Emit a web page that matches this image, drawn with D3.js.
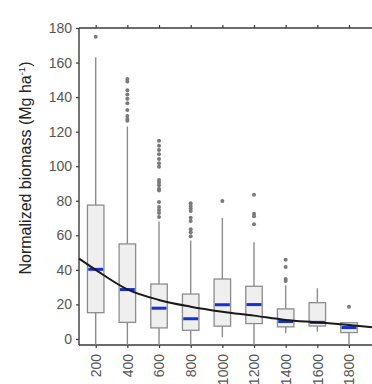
<!DOCTYPE html>
<html>
<head>
<meta charset="utf-8">
<script src="https://cdn.jsdelivr.net/npm/d3@7"></script>
<style>
  body { margin: 0; background: #fff; }
  svg { display: block; font-family: "Liberation Sans", Arial, sans-serif; }
</style>
</head>
<body>
<div id="chart"></div>
<script>
'use strict';

// distance classes (x axis)
var categories = [200, 400, 600, 800, 1000, 1200, 1400, 1600, 1800];

// box stats (Mg ha-1)
var whiskerHigh = [163, 123, 68, 57, 70, 56, 31, 29.3, 9.4];
var boxHigh     = [77.5, 55, 31.8, 26, 34.7, 30.5, 17.4, 21, 9.4];
var medians     = [40.3, 28.6, 17.8, 11.7, 19.8, 19.9, 10.1, 9.6, 6.6];
var boxLow      = [15.2, 9.6, 6.4, 5, 7.4, 8.9, 7.0, 7.5, 3.7];
var whiskerLow  = [0, 0, 0, 0, 1, 0, 3.3, 4.2, 0];

var outliers = [
  [175],
  [150.5, 149, 144, 141.5, 139, 136.4, 132.5, 129, 127.3, 126.3],
  [114.8, 111.9, 109.4, 106.9, 104.2, 101.7, 99.7, 92, 90.5, 89, 87, 86, 79.3, 76.4, 74.7, 72.9, 70.6],
  [78.5, 77, 75.5, 74, 70.2, 68.3, 63.5, 61.7, 59.5],
  [79.9],
  [83.5, 72.5, 71, 66.4],
  [45.9, 41.7, 34.7, 33.6],
  [],
  [18.7]
];

// fitted decay curve
var curveX = [95, 200, 400, 600, 800, 1000, 1200, 1400, 1600, 1800, 1945];
var curveY = [46.5, 40, 28.7, 22.6, 18.7, 15.8, 13.5, 11, 9.6, 8.1, 6.8];

var yTicks = [0, 20, 40, 60, 80, 100, 120, 140, 160, 180];

var W = 372, H = 384;
var plotLeft = 79, plotTop = 28, plotBottom = 345;

var svg = d3.select("#chart").append("svg")
  .attr("width", W).attr("height", H);

var x = d3.scaleLinear().domain([200, 1800]).range([95.7, 349]);
var y = d3.scaleLinear().domain([-3.5, 180]).range([plotBottom, plotTop]);

var axisColor = "#3a3a3a", labelColor = "#555";

// LEFT AXIS
var gy = svg.append("g").attr("transform", "translate(" + plotLeft + ",0)")
  .call(d3.axisLeft(y).tickValues(yTicks).tickSize(3).tickPadding(4).tickSizeOuter(0));
gy.select(".domain").remove();
gy.selectAll("line").attr("stroke", axisColor).attr("stroke-width", 1.2);
gy.selectAll("text").attr("font-size", 14).attr("fill", labelColor)
  .attr("font-family", "Liberation Sans, Arial, sans-serif");

// BOTTOM AXIS
var gx = svg.append("g").attr("transform", "translate(0," + plotBottom + ")")
  .call(d3.axisBottom(x).tickValues(categories).tickSize(3).tickSizeOuter(0).tickFormat(d3.format("d")));
gx.select(".domain").remove();
gx.selectAll("line").attr("stroke", axisColor).attr("stroke-width", 1.2);
gx.selectAll("text")
  .attr("font-size", 14).attr("fill", labelColor)
  .attr("font-family", "Liberation Sans, Arial, sans-serif")
  .attr("transform", "rotate(-90)")
  .attr("x", -9).attr("y", 0).attr("dy", "0.35em")
  .style("text-anchor", "end");

// TOP AXIS (ticks only)
var gt = svg.append("g").attr("transform", "translate(0," + plotTop + ")")
  .call(d3.axisTop(x).tickValues(categories).tickSize(3).tickFormat(""));
gt.select(".domain").remove();
gt.selectAll("line").attr("stroke", axisColor).attr("stroke-width", 1.2);

// frame lines
svg.append("line").attr("x1", plotLeft).attr("x2", W).attr("y1", plotTop).attr("y2", plotTop)
  .attr("stroke", axisColor).attr("stroke-width", 1.4);
svg.append("line").attr("x1", plotLeft).attr("x2", W).attr("y1", plotBottom).attr("y2", plotBottom)
  .attr("stroke", axisColor).attr("stroke-width", 1.4);
svg.append("line").attr("x1", plotLeft).attr("x2", plotLeft).attr("y1", plotTop).attr("y2", plotBottom)
  .attr("stroke", axisColor).attr("stroke-width", 1.4);

// Y TITLE
var title = svg.append("text")
  .attr("transform", "translate(31,168) rotate(-90)")
  .attr("text-anchor", "middle")
  .attr("font-size", 16).attr("fill", "#222");
title.append("tspan").text("Normalized biomass (Mg ha");
title.append("tspan").attr("font-size", 9.5).attr("dy", -6).text("-1");
title.append("tspan").attr("dy", 6).text(")");

// BOXES
var data = categories.map(function(c, i) {
  return { c: c, hi: whiskerHigh[i], q3: boxHigh[i], med: medians[i], q1: boxLow[i], lo: whiskerLow[i], out: outliers[i] };
});

var boxW = 16.5, grey = "#8c8c8c";

var g = svg.selectAll("g.box").data(data).enter().append("g").attr("class", "box");

g.append("line")
  .attr("x1", function(d) { return x(d.c) }).attr("x2", function(d) { return x(d.c) })
  .attr("y1", function(d) { return y(d.hi) })
  .attr("y2", function(d) { return d.lo <= 0 ? plotBottom : y(d.lo) })
  .attr("stroke", grey).attr("stroke-width", 1.4);

g.append("rect")
  .attr("x", function(d) { return x(d.c) - boxW / 2 })
  .attr("width", boxW)
  .attr("y", function(d) { return y(d.q3) })
  .attr("height", function(d) { return y(d.q1) - y(d.q3) })
  .attr("fill", "#efefef").attr("stroke", grey).attr("stroke-width", 1.3);

g.selectAll("circle").data(function(d) { return d.out.map(function(v) { return { c: d.c, v: v } }) })
  .enter().append("circle")
  .attr("cx", function(d) { return x(d.c) })
  .attr("cy", function(d) { return y(d.v) })
  .attr("r", 2)
  .attr("fill", "#7a7a7a");

// CURVE
var pts = curveX.map(function(v, i) { return [v, curveY[i]] });
svg.append("path")
  .datum(pts)
  .attr("d", d3.line().x(function(d) { return x(d[0]) }).y(function(d) { return y(d[1]) }).curve(d3.curveMonotoneX))
  .attr("fill", "none").attr("stroke", "#1a1a1a").attr("stroke-width", 2);

// MEDIANS (drawn over the curve)
g.append("line")
  .attr("x1", function(d) { return x(d.c) - boxW / 2 + 0.8 })
  .attr("x2", function(d) { return x(d.c) + boxW / 2 - 0.8 })
  .attr("y1", function(d) { return y(d.med) }).attr("y2", function(d) { return y(d.med) })
  .attr("stroke", "#1530d8").attr("stroke-width", 3);

</script>
</body>
</html>
